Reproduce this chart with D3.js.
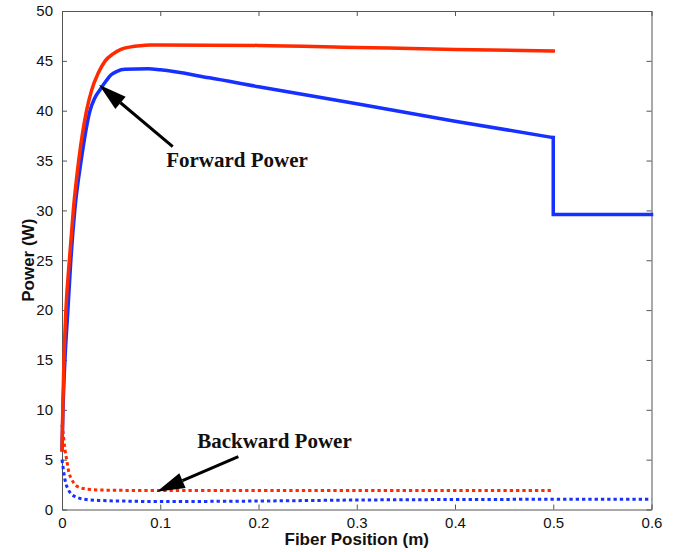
<!DOCTYPE html>
<html>
<head>
<meta charset="utf-8">
<script src="https://cdn.jsdelivr.net/npm/d3@7"></script>
<style>
 body { margin: 0; background: #fff; }
 svg { display: block; }
 .tick text { font-family: "Liberation Sans", Arial, sans-serif; font-size: 15px; fill: #111; }
 .axis path, .axis line { stroke: #555; }
</style>
</head>
<body>
<div id="chart"></div>
<script>
// data (x in m, y in W)
var redForward = [
 [0, 6], [0.001, 11], [0.002, 15], [0.004, 20], [0.0075, 25], [0.0115, 30], [0.017, 35],
 [0.025, 40], [0.03, 42], [0.037, 43.8], [0.044, 45], [0.052, 45.7], [0.06, 46.15],
 [0.07, 46.4], [0.08, 46.52], [0.09, 46.58], [0.1, 46.6], [0.2, 46.55], [0.3, 46.35],
 [0.4, 46.15], [0.5, 46.0]
];
var blueForward = [
 [0, 6], [0.001, 10], [0.003, 15], [0.006, 20], [0.009, 25], [0.013, 30], [0.0195, 35],
 [0.0285, 40], [0.033, 41.2], [0.0387, 42.1], [0.045, 43.0], [0.05, 43.6], [0.056, 43.95],
 [0.064, 44.15], [0.088, 44.2], [0.1, 44.1], [0.15, 43.3], [0.2, 42.4], [0.3, 40.7],
 [0.4, 38.95], [0.5, 37.3], [0.5, 29.6], [0.6, 29.6]
];
var redBackward = [
 [0, 8.5], [0.001, 7.8], [0.003, 6.0], [0.0048, 5.0], [0.0064, 4.0], [0.01, 3.0],
 [0.018, 2.2], [0.03, 2.0], [0.04, 1.95], [0.1, 1.9], [0.5, 1.9]
];
var blueBackward = [
 [0, 5], [0.0014, 4.0], [0.003, 3.0], [0.0064, 2.0], [0.0132, 1.3], [0.025, 1.0],
 [0.04, 0.9], [0.06, 0.85], [0.1, 0.8], [0.2, 0.85], [0.3, 0.95], [0.4, 1.0], [0.5, 1.02], [0.6, 1.02]
];
var xTicks = [0, 0.1, 0.2, 0.3, 0.4, 0.5, 0.6];
var yTicks = [0, 5, 10, 15, 20, 25, 30, 35, 40, 45, 50];

// annotations: label, arrow tail, arrow tip, text position (data units)
var notes = [
 { label: "Forward Power", tail: [0.1127, 36.4], tip: [0.0377, 42.6], tx: 0.106, ty: 34.4 },
 { label: "Backward Power", tail: [0.1795, 5.3], tip: [0.0964, 1.79], tx: 0.1376, ty: 6.2 }
];

var W = 695, H = 552;
var m = { left: 62, top: 11, right: 43.5, bottom: 42.5 };
var w = W - m.left - m.right;
var h = H - m.top - m.bottom;

var svg = d3.select("#chart").append("svg").attr("width", W).attr("height", H);
var g = svg.append("g").attr("transform", "translate(" + m.left + "," + m.top + ")");

var x = d3.scaleLinear().domain([0, 0.6]).range([0, w]);
var y = d3.scaleLinear().domain([0, 50]).range([h, 0]);

// axes, ticks pointing inward like matlab
g.append("g").attr("class", "axis").attr("transform", "translate(0," + h + ")")
 .call(d3.axisBottom(x).tickValues(xTicks).tickFormat(d3.format("")).tickSizeInner(-5).tickSizeOuter(0).tickPadding(8));
g.append("g").attr("class", "axis")
 .call(d3.axisTop(x).tickValues(xTicks).tickFormat("").tickSizeInner(-5).tickSizeOuter(0));
g.append("g").attr("class", "axis")
 .call(d3.axisLeft(y).tickValues(yTicks).tickSizeInner(-5).tickSizeOuter(0).tickPadding(9));
g.append("g").attr("class", "axis").attr("transform", "translate(" + w + ",0)")
 .call(d3.axisRight(y).tickValues(yTicks).tickFormat("").tickSizeInner(-5).tickSizeOuter(0));

var line = d3.line()
 .x(function(d){ return x(d[0]); })
 .y(function(d){ return y(d[1]); })
 .curve(d3.curveMonotoneX);

// split a series where x repeats (vertical step) so the curve stays finite
function pieces(data) {
 var out = [[data[0]]];
 for (var i = 1; i < data.length; i++) {
  if (data[i][0] === data[i-1][0]) out.push([data[i-1]]);
  out[out.length-1].push(data[i]);
 }
 return out;
}

var series = [
 { data: redBackward, color: "#ff2a00", dash: "3.3,3" },
 { data: blueBackward, color: "#1530ff", dash: "3.3,3" },
 { data: blueForward, color: "#1530ff", dash: null },
 { data: redForward, color: "#ff2a00", dash: null }
];
series.forEach(function(s){
 pieces(s.data).forEach(function(p){
  g.append("path").datum(p)
   .attr("d", line)
   .attr("fill", "none")
   .attr("stroke", s.color)
   .attr("stroke-width", s.dash ? 3 : 3.5)
   .attr("stroke-dasharray", s.dash)
   .attr("stroke-linecap", s.dash ? "butt" : "square")
   .attr("stroke-linejoin", "miter");
 });
});

// arrows + labels
notes.forEach(function(n){
 var x1 = x(n.tail[0]), y1 = y(n.tail[1]);
 var x2 = x(n.tip[0]), y2 = y(n.tip[1]);
 var ang = Math.atan2(y2 - y1, x2 - x1);
 var L = 28, hw = 8;
 var bx = x2 - L * Math.cos(ang), by = y2 - L * Math.sin(ang);
 g.append("line")
  .attr("x1", x1).attr("y1", y1).attr("x2", bx).attr("y2", by)
  .attr("stroke", "#000").attr("stroke-width", 3);
 g.append("polygon")
  .attr("points", [
   [x2, y2],
   [bx + hw * Math.sin(ang), by - hw * Math.cos(ang)],
   [bx - hw * Math.sin(ang), by + hw * Math.cos(ang)]
  ].map(function(p){ return p.join(","); }).join(" "))
  .attr("fill", "#000");
 g.append("text")
  .attr("x", x(n.tx)).attr("y", y(n.ty))
  .attr("font-family", "'Liberation Serif', 'Times New Roman', serif")
  .attr("font-weight", "bold")
  .attr("font-size", 21)
  .attr("fill", "#111")
  .text(n.label);
});

// axis titles
svg.append("text")
 .attr("x", m.left + w / 2).attr("y", 545)
 .attr("text-anchor", "middle")
 .attr("font-family", "'Liberation Sans', Arial, sans-serif")
 .attr("font-weight", "bold").attr("font-size", 17).attr("fill", "#111")
 .text("Fiber Position (m)");
svg.append("text")
 .attr("transform", "translate(34," + (m.top + h / 2) + ") rotate(-90)")
 .attr("text-anchor", "middle")
 .attr("font-family", "'Liberation Sans', Arial, sans-serif")
 .attr("font-weight", "bold").attr("font-size", 17).attr("fill", "#111")
 .text("Power (W)");
</script>
</body>
</html>
